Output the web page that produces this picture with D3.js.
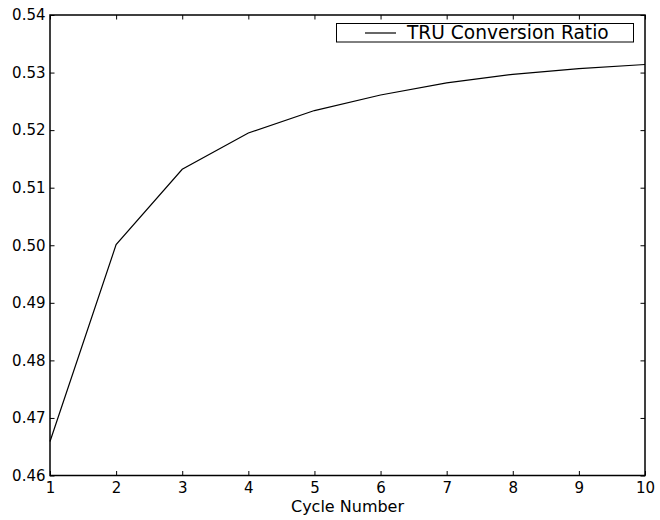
<!DOCTYPE html>
<html><head><meta charset="utf-8">
<script src="https://cdn.jsdelivr.net/npm/d3@7"></script>
<style>body{margin:0;background:#fff}svg{display:block}text{font-family:"DejaVu Sans",sans-serif;fill:#000}</style>
</head><body><svg id="c" width="660" height="520"></svg>
<script>
const cycles = [1,2,3,4,5,6,7,8,9,10];
const ratio = [0.4659,0.5001,0.5132,0.5195,0.5234,0.5261,0.5282,0.5297,0.5307,0.5314];
const xTicks = [1,2,3,4,5,6,7,8,9,10];
const yTicks = [0.46,0.47,0.48,0.49,0.50,0.51,0.52,0.53,0.54];
const seriesName = "TRU Conversion Ratio";
const xLabel = "Cycle Number";

const L=50,R=645,T=15,B=475.5;
const svg=d3.select("#c");
const x=d3.scaleLinear().domain([1,10]).range([L,R]);
const y=d3.scaleLinear().domain([0.46,0.54]).range([B,T]);

svg.append("path").datum(cycles.map((c,i)=>[c,ratio[i]]))
  .attr("fill","none").attr("stroke","#000").attr("stroke-width",1.2)
  .attr("d",d3.line().x(d=>x(d[0])).y(d=>y(d[1])));

const tl=4.5;
const gx=svg.append("g").attr("transform",`translate(0,${B})`)
  .call(d3.axisBottom(x).tickValues(xTicks).tickSize(-tl).tickPadding(7).tickFormat(d3.format("d")));
const gxt=svg.append("g").attr("transform",`translate(0,${T})`)
  .call(d3.axisTop(x).tickValues(xTicks).tickSize(-tl).tickFormat(""));
const gy=svg.append("g").attr("transform",`translate(${L},0)`)
  .call(d3.axisLeft(y).tickValues(yTicks).tickSize(-tl).tickPadding(4.5).tickFormat(d3.format(".2f")));
const gyr=svg.append("g").attr("transform",`translate(${R},0)`)
  .call(d3.axisRight(y).tickValues(yTicks).tickSize(-tl).tickFormat(""));
[gx,gxt,gy,gyr].forEach(g=>{g.select(".domain").remove();g.selectAll("line").attr("stroke","#000").attr("stroke-width",1);
 g.selectAll("text").attr("font-size",15).attr("font-family","DejaVu Sans").attr("fill","#000");});
gx.selectAll("text").attr("dy","0.71em").attr("y",7);

svg.append("rect").attr("x",L).attr("y",T).attr("width",R-L).attr("height",B-T)
  .attr("fill","none").attr("stroke","#000").attr("stroke-width",1.5);

svg.append("text").attr("x",347.5).attr("y",512).attr("text-anchor","middle").attr("font-size",16).text(xLabel);

const lg=svg.append("g");
lg.append("rect").attr("x",336.5).attr("y",23.5).attr("width",297).attr("height",18.5).attr("fill","#fff").attr("stroke","#000").attr("stroke-width",1);
lg.append("line").attr("x1",365).attr("x2",396).attr("y1",33).attr("y2",33).attr("stroke","#000").attr("stroke-width",1.2);
lg.append("text").attr("x",407).attr("y",39).attr("font-size",18.6).text(seriesName);
</script></body></html>
